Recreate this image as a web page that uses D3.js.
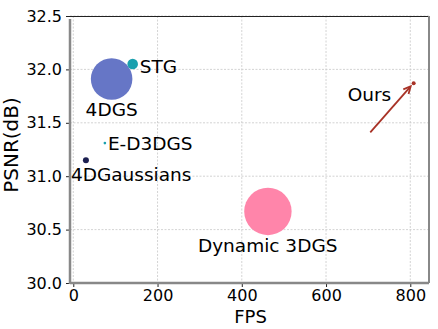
<!DOCTYPE html>
<html>
<head>
<meta charset="utf-8">
<script src="https://d3js.org/d3.v7.min.js"></script>
<style>
  body { margin: 0; background: #fff; }
  text { font-family: 'DejaVu Sans', sans-serif; }
</style>
</head>
<body>
<div id="chart"></div>
<script>
// data
var methods = ["4DGS", "STG", "E-D3DGS", "4DGaussians", "Dynamic 3DGS", "Ours"];
var fps     = [91, 141, 75, 30, 462, 808];
var psnr    = [31.91, 32.05, 31.31, 31.15, 30.67, 31.87];
var storage = [430, 28, 1.7, 9, 560, 4];   // bubble size
var colors  = ["#6676c6", "#1aa0ae", "#1aa0ae", "#1b1f50", "#ff85aa", "#a83226"];
var xTicks = [0, 200, 400, 600, 800];
var yTicks = [30.0, 30.5, 31.0, 31.5, 32.0, 32.5];
var arrowFrom = {fps: 705, psnr: 31.41};

// label offsets in px relative to the bubble centre (layout only)
var labelOffset = [[-26, 37], [7, 9], [3, 7], [-15, 21], [-70, 41], [-66, 18]];

var width = 438, height = 329;
var m = {left: 70, right: 429, top: 16, bottom: 283};

var svg = d3.select("#chart").append("svg")
  .attr("width", width).attr("height", height);

var x = d3.scaleLinear().domain([-7.8, 844.4]).range([m.left, m.right]);
var y = d3.scaleLinear().domain([30, 32.5]).range([m.bottom, m.top]);
var r = d3.scaleSqrt().domain([0, 560]).range([0, 23.7]);

// grid
svg.append("g").selectAll("line").data(xTicks).join("line")
  .attr("x1", d => x(d)).attr("x2", d => x(d))
  .attr("y1", m.top).attr("y2", m.bottom)
  .attr("stroke", "#c8c8c8").attr("stroke-width", 0.8).attr("stroke-dasharray", "2,1.5");
svg.append("g").selectAll("line").data(yTicks).join("line")
  .attr("y1", d => y(d)).attr("y2", d => y(d))
  .attr("x1", m.left).attr("x2", m.right)
  .attr("stroke", "#c8c8c8").attr("stroke-width", 0.8).attr("stroke-dasharray", "2,1.5");

// axes
var xAxis = d3.axisBottom(x).tickValues(xTicks).tickFormat(d3.format("d")).tickSize(4).tickPadding(3);
var yAxis = d3.axisLeft(y).tickValues(yTicks).tickFormat(d3.format(".1f")).tickSize(4).tickPadding(4);

var gx = svg.append("g").attr("transform", "translate(0," + m.bottom + ")").call(xAxis);
var gy = svg.append("g").attr("transform", "translate(" + m.left + ",0)").call(yAxis);
[gx, gy].forEach(function(g) {
  g.select(".domain").remove();
  g.selectAll("line").attr("stroke", "#222").attr("stroke-width", 1);
  g.selectAll("text").attr("font-size", "16px").attr("fill", "#000")
    .attr("font-family", "'DejaVu Sans', sans-serif");
});

// spines
svg.append("line").attr("x1", m.left - 1).attr("x2", m.right)
  .attr("y1", m.top + 0.5).attr("y2", m.top + 0.5).attr("stroke", "#222").attr("stroke-width", 1);
svg.append("line").attr("x1", m.right).attr("x2", m.right)
  .attr("y1", m.top).attr("y2", m.bottom).attr("stroke", "#888").attr("stroke-width", 2);
svg.append("line").attr("x1", m.left).attr("x2", m.left)
  .attr("y1", m.top + 3).attr("y2", m.bottom + 1).attr("stroke", "#888").attr("stroke-width", 2.5);
svg.append("line").attr("x1", m.left).attr("x2", m.right)
  .attr("y1", m.bottom).attr("y2", m.bottom).attr("stroke", "#888").attr("stroke-width", 2.5);

// bubbles
var pts = methods.map(function(name, i) {
  return {name: name, fps: fps[i], psnr: psnr[i], size: storage[i], color: colors[i], off: labelOffset[i]};
});

svg.append("g").selectAll("circle").data(pts).join("circle")
  .attr("cx", d => x(d.fps)).attr("cy", d => y(d.psnr))
  .attr("r", d => r(d.size)).attr("fill", d => d.color);

svg.append("g").selectAll("text").data(pts).join("text")
  .attr("x", d => x(d.fps) + d.off[0]).attr("y", d => y(d.psnr) + d.off[1])
  .attr("font-size", "18.5px").attr("fill", "#000")
  .text(d => d.name);

// arrow to "Ours"
var ours = pts[pts.length - 1];
var x0 = x(arrowFrom.fps), y0 = y(arrowFrom.psnr);
var x1 = x(ours.fps) - 3, y1 = y(ours.psnr) + 3;
var ang = Math.atan2(y1 - y0, x1 - x0);
var head = 8, spread = 0.45;
svg.append("line").attr("x1", x0).attr("y1", y0).attr("x2", x1).attr("y2", y1)
  .attr("stroke", "#a83226").attr("stroke-width", 1.8);
svg.append("path")
  .attr("d", "M" + (x1 - head * Math.cos(ang - spread)) + "," + (y1 - head * Math.sin(ang - spread)) +
             "L" + x1 + "," + y1 +
             "L" + (x1 - head * Math.cos(ang + spread)) + "," + (y1 - head * Math.sin(ang + spread)))
  .attr("fill", "none").attr("stroke", "#a83226").attr("stroke-width", 1.8);

// axis titles
svg.append("text").attr("x", (m.left + m.right) / 2 + 1).attr("y", 323)
  .attr("text-anchor", "middle").attr("font-size", "18px").text("FPS");
svg.append("text")
  .attr("transform", "translate(18," + 145 + ") rotate(-90)")
  .attr("text-anchor", "middle").attr("font-size", "20px").text("PSNR(dB)");
</script>
</body>
</html>
